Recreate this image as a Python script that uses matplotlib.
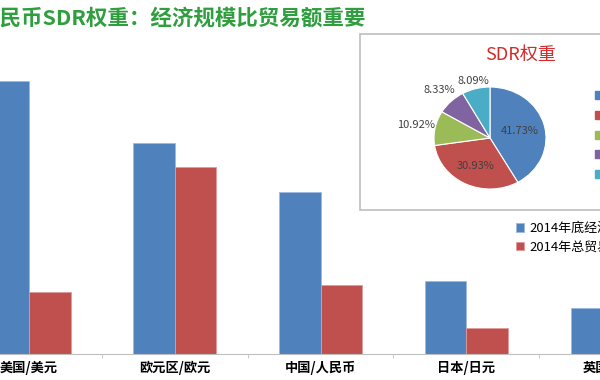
import numpy as np
import matplotlib
matplotlib.use("Agg")
import matplotlib.pyplot as plt
from matplotlib.patches import Rectangle, Patch

plt.rcParams['font.family'] = ['Noto Sans CJK SC', 'DejaVu Sans']

# data
categories = ["美国/美元", "欧元区/欧元", "中国/人民币", "日本/日元", "英国/英镑"]
gdp_2014 = [17.4, 13.4, 10.3, 4.6, 2.9]
trade_2014 = [3.9, 11.9, 4.4, 1.6, 1.2]
series_names = ["2014年底经济规模（万亿美元）", "2014年总贸易额（万亿美元）"]
sdr_labels = ["美元", "欧元", "人民币", "日元", "英镑"]
sdr_weights = [41.73, 30.93, 10.92, 8.33, 8.09]

BLUE, RED = "#4F81BD", "#C0504D"
pie_colors = ["#4F81BD", "#C0504D", "#9BBB59", "#8064A2", "#4BACC6"]

W, H = 600, 380
fig = plt.figure(figsize=(6, 3.8), dpi=100)

# title, left part cut off like the source slide
fig.text(-22 / W, 1 - 18 / H, "人民币SDR权重：经济规模比贸易额重要", fontsize=15.5,
         color="#2E9E3E", weight="bold", ha="left", va="center")

# === bar chart ===
base_px, top_px = 353.5, 40
ax = fig.add_axes([0, (H - base_px) / H, 1, (base_px - top_px) / H])
x = np.arange(len(categories))
bw = 0.285
b1 = ax.bar(x - bw / 2, gdp_2014, bw, color=BLUE, edgecolor="#9DB8DD", linewidth=0.6)
b2 = ax.bar(x + bw / 2, trade_2014, bw, color=RED, edgecolor="#E09A98", linewidth=0.6)
for s in ["top", "right", "left"]:
    ax.spines[s].set_visible(False)
ax.spines["bottom"].set_color("#BFBFBF")
ax.set_yticks([])
ax.set_xticks([])
ax.set_xticks(x[:-1] + 0.5, minor=True)
ax.tick_params(axis="x", which="minor", length=3, color="#BFBFBF")
# limits after ticks (set_xticks would widen them)
ax.set_xlim(-29 / 145.8, (W - 29) / 145.8)
ax.set_ylim(0, 20)
# category labels as text so the last one shows even though it runs off the edge
for i, c in zip(x, categories):
    ax.annotate(c, (i, 0), xycoords=("data", "axes fraction"), xytext=(0, -10.6),
                textcoords="offset points", ha="center", va="center",
                fontsize=9.5, weight="bold", annotation_clip=False)

fig.legend([b1, b2], series_names, loc="upper left",
           bbox_to_anchor=(516 / W, 1 - 222 / H), frameon=False, fontsize=9.4,
           handlelength=0.6, handleheight=0.6, handletextpad=0.4,
           borderpad=0, borderaxespad=0, labelspacing=0.45)

# === inset pie ===
box = Rectangle((360 / W, 1 - 210 / H), 260 / W, 176 / H, transform=fig.transFigure,
                facecolor="white", edgecolor="#BDBDBD", linewidth=1.2, zorder=1)
fig.add_artist(box)

cx, cy, rx, ry = 490, 138, 56, 51
pax = fig.add_axes([(cx - rx) / W, 1 - (cy + ry) / H, 2 * rx / W, 2 * ry / H])
pax.set_zorder(2)
wedges, _ = pax.pie(sdr_weights, colors=pie_colors, startangle=90, counterclock=False,
                    wedgeprops=dict(edgecolor="white", linewidth=0.8))
pax.set_aspect("auto")
pax.set_xlim(-1, 1)
pax.set_ylim(-1, 1)
dist = [0.55, 0.6, 1.35, 1.3, 1.15]
for w, d, v in zip(wedges, dist, sdr_weights):
    ang = np.deg2rad((w.theta1 + w.theta2) / 2)
    pax.text(d * np.cos(ang), d * np.sin(ang), f"{v:.2f}%", ha="center", va="center",
             fontsize=8, color="#404040", clip_on=False)

fig.text(520 / W, 1 - 55 / H, "SDR权重", fontsize=13, color="#D42A2A",
         ha="center", va="center", zorder=3)

handles = [Patch(color=c) for c in pie_colors]
leg = fig.legend(handles, sdr_labels, loc="upper left",
                 bbox_to_anchor=(595 / W, 1 - 90 / H), frameon=False, fontsize=8,
                 handlelength=0.7, handleheight=0.7, handletextpad=0.4,
                 borderpad=0, borderaxespad=0, labelspacing=0.85)
leg.set_zorder(3)

fig.savefig("out.png", dpi=100)
